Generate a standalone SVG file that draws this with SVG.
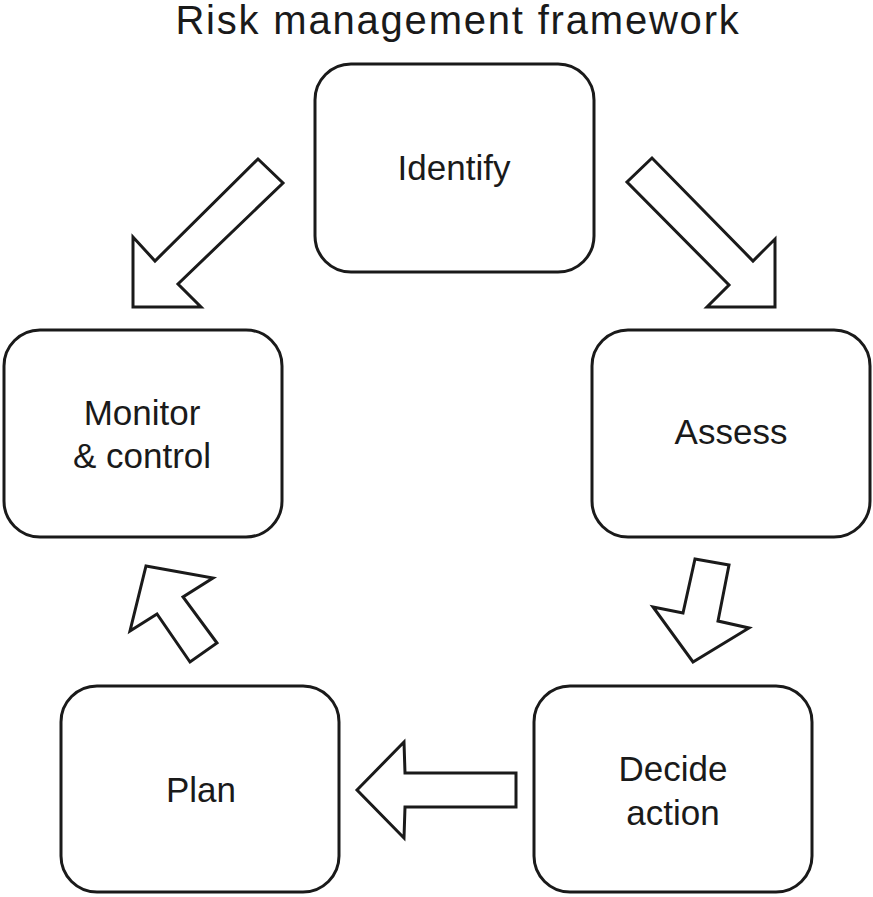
<svg xmlns="http://www.w3.org/2000/svg" width="873" height="897" viewBox="0 0 873 897">
<style>
.box{fill:#fff;stroke:#1a1a1a;stroke-width:3}
.arr{fill:#fff;stroke:#1a1a1a;stroke-width:3;stroke-linejoin:miter}
text{font-family:"Liberation Sans",Arial,sans-serif;fill:#1a1a1a;text-anchor:middle}
.lbl{font-size:35px}
.title{font-size:40px;letter-spacing:1.8px}
</style>
<rect width="873" height="897" fill="#fff"/>
<text class="title" x="458" y="34">Risk management framework</text>
<g id="connectors">
<polygon class="arr" points="258,159 283,183 178,284 201,307 133,307 133,237 155,261"/>
<polygon class="arr" points="652,158 627,182 729,285 707,307 775,307 775,239 753,261"/>
<polygon class="arr" points="695,559 729,565 718,621 749,628 693,662 653,607 683,613"/>
<polygon class="arr" points="357,790 404,742 405,773 516,773 516,807 405,807 404,838"/>
<polygon class="arr" points="146,566 213,578 183,597 217,643 190,662 157,614 130,631"/>
</g>
<g id="identify">
<rect class="box" x="315" y="64" width="279" height="208" rx="36"/>
<text class="lbl" x="454" y="180">Identify</text>
</g>
<g id="assess">
<rect class="box" x="592" y="330" width="278" height="207" rx="36"/>
<text class="lbl" x="731" y="444">Assess</text>
</g>
<g id="decide">
<rect class="box" x="534" y="686" width="278" height="206" rx="36"/>
<text class="lbl" x="673" y="781">Decide</text>
<text class="lbl" x="673" y="825">action</text>
</g>
<g id="plan">
<rect class="box" x="61" y="686" width="278" height="206" rx="36"/>
<text class="lbl" x="201" y="802">Plan</text>
</g>
<g id="monitor">
<rect class="box" x="4" y="330" width="278" height="207" rx="36"/>
<text class="lbl" x="142" y="425">Monitor</text>
<text class="lbl" x="142" y="468">&amp; control</text>
</g>
</svg>
